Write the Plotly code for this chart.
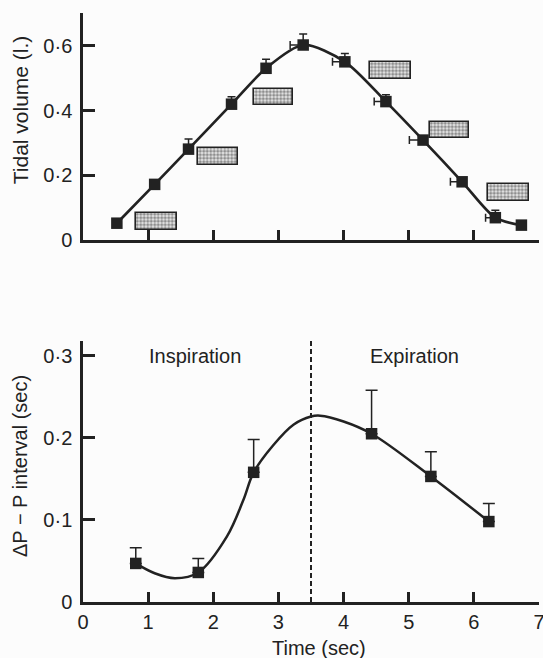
import plotly.graph_objects as go

# ---------------- data ----------------
# Top panel: tidal volume
t_top = [0.52, 1.10, 1.62, 2.28, 2.81, 3.38, 4.02, 4.65, 5.22, 5.82, 6.33, 6.73]
v_top = [0.052, 0.172, 0.281, 0.420, 0.531, 0.603, 0.551, 0.428, 0.309, 0.180, 0.069, 0.046]
v_err_up = [0, 0, 0.031, 0.023, 0.028, 0.034, 0.026, 0.021, 0, 0, 0.023, 0]
t_err_left = [0, 0, 0, 0, 0, 0.20, 0.19, 0.18, 0.21, 0.18, 0.15, 0]

# stippled boxes in the top panel
box_start = [0.81, 1.76, 2.63, 4.41, 5.33, 6.21]
box_end = [1.44, 2.38, 3.23, 5.03, 5.93, 6.84]
box_low = [0.031, 0.232, 0.418, 0.498, 0.315, 0.122]
box_high = [0.083, 0.284, 0.466, 0.552, 0.366, 0.173]

# Bottom panel: delta P-P interval
t_bot = [0.81, 1.77, 2.62, 4.43, 5.34, 6.23]
d_bot = [0.047, 0.036, 0.158, 0.205, 0.153, 0.098]
d_err_up = [0.019, 0.017, 0.040, 0.053, 0.030, 0.022]

# fitted curve of the bottom panel
curve_t = [0.81, 1.10, 1.41, 1.77, 2.21, 2.46, 2.62, 2.92, 3.23, 3.50, 3.64, 4.00, 4.43, 5.34, 6.23]
curve_d = [0.047, 0.035, 0.029, 0.036, 0.080, 0.124, 0.158, 0.191, 0.216, 0.226, 0.227, 0.220, 0.205, 0.153, 0.098]

phase_split = 3.5

x_ticks = [1, 2, 3, 4, 5, 6, 7]
x_ticktext = ["1", "2", "3", "4", "5", "6", "7"]
x_ticks_bot = [0, 1, 2, 3, 4, 5, 6, 7]
x_ticktext_bot = ["0", "1", "2", "3", "4", "5", "6", "7"]
y_ticks_top = [0, 0.2, 0.4, 0.6]
y_ticktext_top = ["0", "0·2", "0·4", "0·6"]
y_ticks_bot = [0, 0.1, 0.2, 0.3]
y_ticktext_bot = ["0", "0·1", "0·2", "0·3"]

# ---------------- figure ----------------
INK = "#222222"
FONT = "Liberation Sans, Arial, Helvetica, sans-serif"

fig = go.Figure()

fig.add_trace(go.Bar(
    x=[(a + b) / 2 for a, b in zip(box_start, box_end)],
    y=[h - l for l, h in zip(box_low, box_high)],
    base=box_low,
    width=[b - a for a, b in zip(box_start, box_end)],
    marker=dict(
        color="#e8e8e8",
        line=dict(color=INK, width=1.6),
        pattern=dict(shape=".", fgcolor="#333333", bgcolor="#e8e8e8", size=3.5, solidity=0.6),
    ),
    xaxis="x", yaxis="y", showlegend=False, hoverinfo="skip",
))

fig.add_trace(go.Scatter(
    x=t_top, y=v_top, mode="lines+markers",
    line=dict(color=INK, width=2.7, shape="spline", smoothing=0.8),
    marker=dict(symbol="square", size=11.5, color=INK),
    error_y=dict(type="data", symmetric=False, array=v_err_up,
                 arrayminus=[0] * len(v_err_up), color=INK, thickness=1.5, width=4),
    error_x=dict(type="data", symmetric=False, array=[0] * len(t_err_left),
                 arrayminus=t_err_left, color=INK, thickness=1.5, width=4),
    xaxis="x", yaxis="y", showlegend=False,
))

fig.add_trace(go.Scatter(
    x=curve_t, y=curve_d, mode="lines",
    line=dict(color=INK, width=2.5, shape="spline", smoothing=1.0),
    xaxis="x2", yaxis="y2", showlegend=False, hoverinfo="skip",
))

fig.add_trace(go.Scatter(
    x=t_bot, y=d_bot, mode="markers",
    marker=dict(symbol="square", size=11.5, color=INK),
    error_y=dict(type="data", symmetric=False, array=d_err_up,
                 arrayminus=[0] * len(d_err_up), color=INK, thickness=1.5, width=6),
    xaxis="x2", yaxis="y2", showlegend=False,
))

fig.add_shape(type="line", xref="x2", yref="y2 domain",
              x0=phase_split, x1=phase_split, y0=0, y1=1,
              line=dict(color=INK, width=2, dash="5px,3px"))

axis_common = dict(showline=True, linecolor=INK, linewidth=2.5, showgrid=False,
                   zeroline=False, ticks="inside", tickcolor=INK, tickwidth=2.5,
                   automargin=False, ticklabeloverflow="allow",
                   tickfont=dict(family=FONT, size=20, color=INK))

fig.update_layout(
    width=543, height=658,
    margin=dict(l=83, r=4, t=13, b=56, autoexpand=False),
    paper_bgcolor="#fcfcfc", plot_bgcolor="#fcfcfc",
    font=dict(family=FONT, color=INK),
    xaxis=dict(axis_common, domain=[0, 1], range=[0, 7], anchor="y",
               tickvals=x_ticks, ticktext=x_ticktext, showticklabels=False, ticklen=10),
    yaxis=dict(axis_common, domain=[0.6146, 1], range=[0, 0.702], anchor="x",
               tickvals=y_ticks_top, ticktext=y_ticktext_top, ticklen=12,
               ticklabelstandoff=4),
    xaxis2=dict(axis_common, domain=[0, 1], range=[0, 7], anchor="y2",
                tickvals=x_ticks_bot, ticktext=x_ticktext_bot, ticklen=10,
                ticklabelstandoff=0),
    yaxis2=dict(axis_common, domain=[0, 0.4431], range=[0, 0.318], anchor="x2",
                tickvals=y_ticks_bot, ticktext=y_ticktext_bot, ticklen=12,
                ticklabelstandoff=4),
    bargap=0,
)

fig.add_annotation(text="Tidal volume (l.)", textangle=-90, xref="paper", yref="paper",
                   x=-0.138, y=0.835, xanchor="center", yanchor="middle", showarrow=False,
                   font=dict(family=FONT, size=21, color=INK))
fig.add_annotation(text="ΔP − P interval (sec)", textangle=-90, xref="paper", yref="paper",
                   x=-0.138, y=0.231, xanchor="center", yanchor="middle", showarrow=False,
                   font=dict(family=FONT, size=20, color=INK))
fig.add_annotation(text="Time (sec)", xref="paper", yref="paper",
                   x=0.518, y=-0.078, xanchor="center", yanchor="middle", showarrow=False,
                   font=dict(family=FONT, size=20, color=INK))
fig.add_annotation(text="Inspiration", xref="x2", yref="y2",
                   x=1.72, y=0.300, showarrow=False,
                   font=dict(family=FONT, size=20, color=INK))
fig.add_annotation(text="Expiration", xref="x2", yref="y2",
                   x=5.09, y=0.300, showarrow=False,
                   font=dict(family=FONT, size=20, color=INK))

fig.write_html("out.html", config={"displayModeBar": False},
               post_script="document.body.style.margin='0';document.body.style.background='#fcfcfc';")
